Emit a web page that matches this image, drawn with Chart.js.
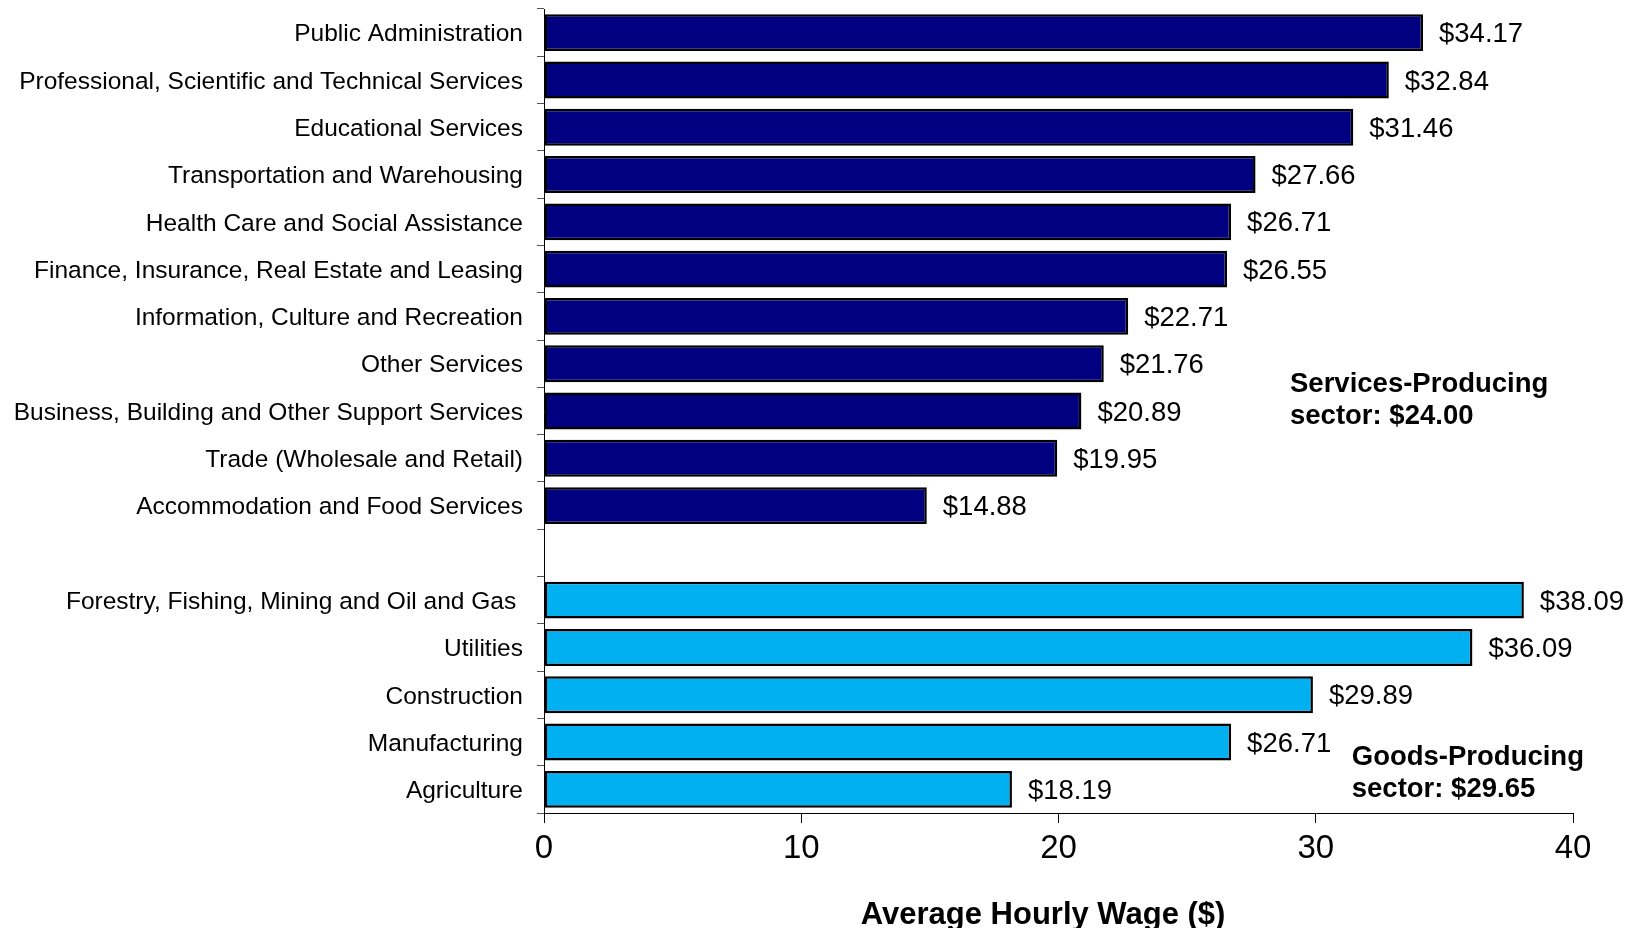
<!DOCTYPE html>
<html>
<head>
<meta charset="utf-8">
<title>Average Hourly Wage by Industry</title>
<script src="https://cdn.jsdelivr.net/npm/chart.js@4.4.1/dist/chart.umd.min.js"></script>
<style>
  html, body { margin: 0; padding: 0; background: #fff; }
  #wrap { position: relative; width: 1628px; height: 928px; }
</style>
</head>
<body>
<div id="wrap"><canvas id="wageChart"></canvas></div>
<script>
// --------- Data --------

const servicesLabels = [
    'Public Administration',
    'Professional, Scientific and Technical Services',
    'Educational Services',
    'Transportation and Warehousing',
    'Health Care and Social Assistance',
    'Finance, Insurance, Real Estate and Leasing',
    'Information, Culture and Recreation',
    'Other Services',
    'Business, Building and Other Support Services',
    'Trade (Wholesale and Retail)',
    'Accommodation and Food Services'
];
const servicesValues = [34.17, 32.84, 31.46, 27.66, 26.71, 26.55, 22.71, 21.76, 20.89, 19.95, 14.88];

const goodsLabels = [
    'Forestry, Fishing, Mining and Oil and Gas ',
    'Utilities',
    'Construction',
    'Manufacturing',
    'Agriculture'
];
const goodsValues = [38.09, 36.09, 29.89, 26.71, 18.19];

const xTicks = [0, 10, 20, 30, 40];
const axisTitle = 'Average Hourly Wage ($)';
const servicesNote = ['Services-Producing', 'sector: $24.00'];
const goodsNote = ['Goods-Producing', 'sector: $29.65'];

const FONT = '"Liberation Sans", Arial, Helvetica, sans-serif';

// one empty row between the two groups
const labels = [...servicesLabels, '', ...goodsLabels];
const servicesData = [...servicesValues, null, ...goodsLabels.map(() => null)];
const goodsData = [...servicesLabels.map(() => null), null, ...goodsValues];

// --------- Labels plugin --------

const wageLabels = {
    id: 'wageLabels',
    afterDatasetsDraw(chart) {
        const ctx = chart.ctx;
        const xs = chart.scales.x;
        const ys = chart.scales.y;
        ctx.save();
        ctx.fillStyle = '#000';
        ctx.textBaseline = 'middle';

        // value labels at the end of each bar
        ctx.font = '27.5px ' + FONT;
        ctx.textAlign = 'left';
        chart.data.datasets.forEach((ds, i) => {
            chart.getDatasetMeta(i).data.forEach((bar, j) => {
                const v = ds.data[j];
                if (v === null || v === undefined) return;
                ctx.fillText('$' + v.toFixed(2), bar.x + 16, bar.y + 2);
            });
        });

        // sector averages
        ctx.font = 'bold 27.5px ' + FONT;
        let y2 = ys.getPixelForValue(8) + 5;
        ctx.fillText(servicesNote[0], xs.getPixelForValue(29), y2 - 32);
        ctx.fillText(servicesNote[1], xs.getPixelForValue(29), y2);
        y2 = ys.getPixelForValue(16);
        ctx.fillText(goodsNote[0], xs.getPixelForValue(31.4), y2 - 32);
        ctx.fillText(goodsNote[1], xs.getPixelForValue(31.4), y2);

        // axis title
        ctx.font = 'bold 31px ' + FONT;
        ctx.textAlign = 'center';
        ctx.fillText(axisTitle, xs.getPixelForValue(19.4), 915);
        ctx.restore();
    }
};

// --------- Chart --------

const ctx = document.getElementById('wageChart').getContext('2d');
const wageChart = new Chart(ctx, {
    type: 'bar',
    data: {
        labels: labels,
        datasets: [{
            label: 'Services-Producing',
            data: servicesData,
            backgroundColor: '#000080',
            borderColor: '#000',
            borderWidth: 2.5,
            borderSkipped: false,
            grouped: false,
            categoryPercentage: 1,
            barPercentage: 0.78
        }, {
            label: 'Goods-Producing',
            data: goodsData,
            backgroundColor: '#00B0F0',
            borderColor: '#000',
            borderWidth: 2.5,
            borderSkipped: false,
            grouped: false,
            categoryPercentage: 1,
            barPercentage: 0.78
        }]
    },
    options: {
        indexAxis: 'y',
        responsive: true,
        maintainAspectRatio: false,
        animation: false,
        layout: { padding: { top: 9, right: 55, left: 0, bottom: 0 } },
        plugins: {
            legend: { display: false },
            tooltip: { enabled: false }
        },
        scales: {
            x: {
                min: 0,
                max: 40,
                afterBuildTicks: (scale) => { scale.ticks = xTicks.map(v => ({ value: v })); },
                afterFit: (scale) => { scale.height = 115; },
                grid: { drawOnChartArea: false, drawTicks: true, tickLength: 10, color: '#000' },
                border: { display: true, color: '#000', width: 1 },
                ticks: {
                    color: '#000',
                    padding: 6,
                    font: { family: FONT, size: 33, lineHeight: 1.2 }
                }
            },
            y: {
                afterFit: (scale) => {
                    scale.width = 544;
                    // keep the plot top at the layout padding
                    scale.paddingTop = 0;
                    scale.paddingBottom = 0;
                },
                grid: { drawOnChartArea: false, drawTicks: true, tickLength: 7, color: '#555', offset: true },
                border: { display: true, color: '#000', width: 1 },
                ticks: {
                    color: '#000',
                    padding: 14,
                    labelOffset: 2,
                    autoSkip: false,
                    font: { family: FONT, size: 24.5 }
                }
            }
        }
    },
    plugins: [wageLabels]
});
</script>
</body>
</html>
